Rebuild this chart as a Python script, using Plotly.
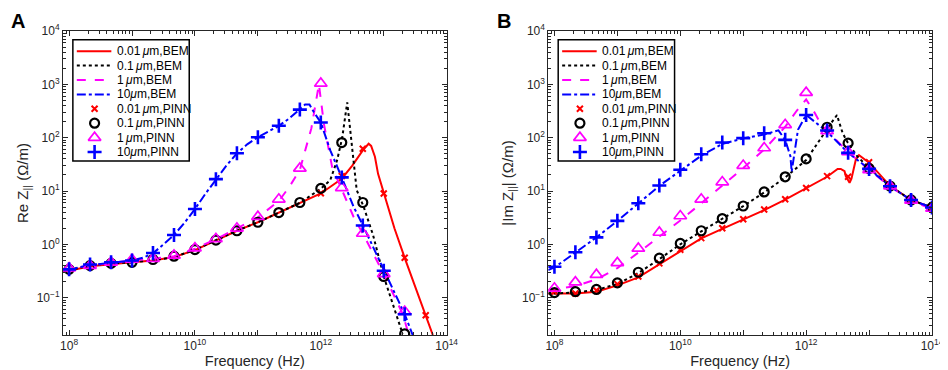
import numpy as np
import plotly.graph_objects as go

# ---------------- data ----------------
# PINN sample frequencies (log10 Hz)
pinn_exp = [8.0, 8.333, 8.667, 9.0, 9.333, 9.667, 10.0, 10.333, 10.667, 11.0,
            11.333, 11.667, 12.0, 12.333, 12.667, 13.0, 13.333, 13.667, 14.0]

# Panel A : Re Z
A_pinn_001 = [None, None, None, None, None, None, None, None, None, None,
              None, None, 9.1, 19, 62, 9.0, 0.56, 0.047, None]
A_pinn_01 = [0.34, 0.40, 0.44, 0.46, 0.52, 0.60, 0.80, 1.2, 1.8, 2.6,
             3.95, 6.1, 11.2, 81, 6.1, 0.25, 0.021, None, None]
A_pinn_1 = [0.36, 0.40, 0.46, 0.52, 0.54, 0.62, 0.85, 1.27, 2.0, 3.3,
            7.0, 26.6, 1040, 11.5, 1.6, 0.28, 0.055, None, None]
A_pinn_10 = [0.34, 0.42, 0.46, 0.50, 0.69, 1.5, 4.6, 16.7, 51, 102,
             167, 336, 193, 18, 2.26, 0.32, 0.049, None, None]

A_bem_001_x = [7.9, 8.0, 8.333, 8.667, 9.0, 9.333, 9.667, 10.0, 10.333, 10.667, 11.0,
               11.333, 11.667, 12.0, 12.333, 12.5, 12.667, 12.76, 12.8, 12.86, 12.91,
               13.0, 13.17, 13.333, 13.5, 13.667, 13.78]
A_bem_001_y = [0.31, 0.32, 0.39, 0.43, 0.46, 0.50, 0.58, 0.78, 1.2, 1.8, 2.6,
               3.9, 5.9, 9.0, 17, 30, 58, 77, 70, 44, 21,
               9.5, 2.0, 0.56, 0.16, 0.047, 0.02]
A_bem_01_x = [7.9, 8.0, 8.333, 8.667, 9.0, 9.333, 9.667, 10.0, 10.333, 10.667, 11.0,
              11.333, 11.667, 12.0, 12.15, 12.26, 12.34, 12.42, 12.49, 12.57, 12.68,
              12.83, 13.0, 13.3]
A_bem_01_y = [0.32, 0.33, 0.40, 0.44, 0.46, 0.50, 0.58, 0.79, 1.2, 1.8, 2.6,
              3.9, 6.0, 11, 16, 38, 100, 460, 89, 10.5, 5.1,
              1.5, 0.25, 0.021]
A_bem_1_x = [7.9, 8.0, 8.333, 8.667, 9.0, 9.333, 9.667, 10.0, 10.333, 10.667, 11.0,
             11.333, 11.5, 11.667, 11.85, 11.97, 12.05, 12.18, 12.333, 12.52, 12.667,
             13.0, 13.3, 13.4]
A_bem_1_y = [0.34, 0.35, 0.40, 0.45, 0.50, 0.54, 0.60, 0.83, 1.25, 2.0, 3.2,
             6.5, 12, 25, 150, 1000, 180, 28, 11, 3.3, 1.6,
             0.28, 0.05, 0.02]
A_bem_10_x = [7.9, 8.0, 8.333, 8.667, 9.0, 9.17, 9.333, 9.5, 9.667, 9.83, 10.0,
              10.17, 10.333, 10.5, 10.667, 10.83, 11.0, 11.17, 11.333, 11.5, 11.667,
              11.75, 11.82, 11.89, 12.0, 12.15, 12.333, 12.52, 12.667, 13.0, 13.333, 13.46]
A_bem_10_y = [0.33, 0.34, 0.41, 0.46, 0.50, 0.56, 0.68, 1.0, 1.5, 2.5, 4.6,
              9, 16.7, 30, 51, 75, 102, 130, 167, 230, 340,
              420, 420, 300, 193, 58, 18, 5.1, 2.3, 0.33, 0.049, 0.02]

# Panel B : |Im Z|
B_pinn_001 = [0.13, 0.12, 0.137, 0.18, 0.25, 0.44, 0.79, 1.31, 2.0, 2.96,
              4.5, 7.0, 11.4, 19, 18.5, 34.6, 12.4, 6.8, 4.9]
B_pinn_01 = [0.125, 0.13, 0.143, 0.19, 0.30, 0.55, 1.04, 1.8, 3.05, 5.24,
             9.6, 18.5, 40, 157, 79, 26.4, 12.4, 6.8, 4.9]
B_pinn_1 = [0.15, 0.196, 0.27, 0.45, 0.84, 1.67, 3.4, 7.0, 14.7, 30,
            64, 174, 700, 134, 54, 25, 12.4, 6.7, 4.7]
B_pinn_10 = [0.38, 0.71, 1.35, 2.76, 5.9, 12.7, 25, 49, 81, 98,
             121, 91, 267, 136, 52, 26, 12.3, 6.8, 4.9]

B_bem_001_x = [7.9, 8.0, 8.333, 8.667, 9.0, 9.333, 9.667, 10.0, 10.333, 10.667, 11.0,
               11.333, 11.667, 12.0, 12.333, 12.5, 12.55, 12.61, 12.63, 12.69, 12.72,
               12.79, 12.84, 13.0, 13.333, 13.667, 14.0]
B_bem_001_y = [0.12, 0.12, 0.12, 0.13, 0.17, 0.24, 0.42, 0.75, 1.3, 1.95, 2.9,
               4.4, 6.9, 11.2, 18.5, 26, 26, 23.6, 19, 14.3, 17,
               39, 47, 34, 12.5, 6.8, 4.9]
B_bem_01_x = [7.9, 8.0, 8.333, 8.667, 9.0, 9.333, 9.667, 10.0, 10.333, 10.667, 11.0,
              11.333, 11.667, 12.0, 12.333, 12.4, 12.49, 12.58, 12.66, 12.81, 13.0,
              13.333, 13.667, 14.0]
B_bem_01_y = [0.12, 0.12, 0.125, 0.14, 0.18, 0.29, 0.53, 1.0, 1.75, 3.0, 5.2,
              9.4, 18, 38, 150, 190, 265, 122, 81, 45, 27,
              12.4, 6.8, 4.9]
B_bem_1_x = [7.9, 8.0, 8.333, 8.667, 9.0, 9.333, 9.667, 10.0, 10.333, 10.667, 11.0,
             11.333, 11.667, 11.85, 12.0, 12.14, 12.24, 12.333, 12.667, 13.0, 13.333,
             13.667, 14.0]
B_bem_1_y = [0.14, 0.145, 0.165, 0.22, 0.36, 0.70, 1.4, 2.8, 5.9, 12.5, 27,
             60, 160, 320, 520, 288, 174, 134, 54, 25, 12.2,
             6.6, 4.6]
B_bem_10_x = [7.9, 8.0, 8.333, 8.667, 9.0, 9.333, 9.667, 10.0, 10.333, 10.667, 11.0,
              11.333, 11.5, 11.56, 11.667, 11.75, 11.77, 11.82, 11.87, 12.0, 12.333,
              12.667, 13.0, 13.333, 13.667, 14.0]
B_bem_10_y = [0.33, 0.37, 0.70, 1.35, 2.75, 5.8, 12.5, 24, 46, 76, 97,
              115, 130, 137, 91, 45, 23, 60, 141, 267, 130,
              52, 26, 12.2, 6.8, 4.9]

x_tickvals = [1e8, 1e9, 1e10, 1e11, 1e12, 1e13, 1e14]
x_ticktext = ["10<sup>8</sup>", "", "10<sup>10</sup>", "", "10<sup>12</sup>", "", "10<sup>14</sup>"]
y_tickvals = [1e-1, 1e0, 1e1, 1e2, 1e3, 1e4]
y_ticktext = ["10<sup>\u22121</sup>", "10<sup>0</sup>", "10<sup>1</sup>",
              "10<sup>2</sup>", "10<sup>3</sup>", "10<sup>4</sup>"]

labels = ["0.01\u2009<i>\u03bc</i>m,BEM", "0.1\u2009<i>\u03bc</i>m,BEM",
          "1\u2009<i>\u03bc</i>m,BEM", "10<i>\u03bc</i>m,BEM",
          "0.01\u2009<i>\u03bc</i>m,PINN", "0.1\u2009<i>\u03bc</i>m,PINN",
          "1\u2009<i>\u03bc</i>m,PINN", "10<i>\u03bc</i>m,PINN"]

# ---------------- styles / layout constants ----------------
colors = ["#ff0000", "#000000", "#ff00ff", "#0000ff"]
dashes = ["solid", "dot", "dash", "dashdot"]
symbols = ["x-thin-open", "circle-open", "triangle-up-open", "cross-thin-open"]
msizes = [6, 9, 11, 10]
mlw = [2, 2.2, 1.7, 2.6]
TICKFONT = "Liberation Sans"
TITLEFONT = "Liberation Sans"
AX = "#262626"
W, H = 948, 370
ML, MR, MT, MB = 55, 12, 23, 41
DOM_A = [0.0, 0.4415]
DOM_B = [0.5585, 1.0]

# legend geometry in panel-fraction units
LEG_BOX = dict(x0=0.0257, x1=0.329, y0=0.572, y1=0.9716)
LEG_ROW_TOP = 0.9337
LEG_ROW_STEP = 0.0474
LEG_LINE_X = [0.036, 0.126]
LEG_MARK_X = 0.0823
LEG_TEXT_X = 0.1344

fig = go.Figure()


def tolog(e):
    return [10 ** v for v in e]


panels = [
    ("x", "y", "x3", "y3", DOM_A,
     [(A_bem_001_x, A_bem_001_y), (A_bem_01_x, A_bem_01_y),
      (A_bem_1_x, A_bem_1_y), (A_bem_10_x, A_bem_10_y)],
     [A_pinn_001, A_pinn_01, A_pinn_1, A_pinn_10]),
    ("x2", "y2", "x4", "y4", DOM_B,
     [(B_bem_001_x, B_bem_001_y), (B_bem_01_x, B_bem_01_y),
      (B_bem_1_x, B_bem_1_y), (B_bem_10_x, B_bem_10_y)],
     [B_pinn_001, B_pinn_01, B_pinn_1, B_pinn_10]),
]

shapes = []
annotations = []
for xa, ya, lxa, lya, dom, bem, pinn in panels:
    for i, (bx, by) in enumerate(bem):
        fig.add_trace(go.Scatter(x=tolog(bx), y=by, mode="lines", showlegend=False,
                                 line=dict(color=colors[i], width=2, dash=dashes[i]),
                                 xaxis=xa, yaxis=ya))
    for i, py in enumerate(pinn):
        fig.add_trace(go.Scatter(x=tolog(pinn_exp), y=py, mode="markers", showlegend=False,
                                 marker=dict(symbol=symbols[i], size=msizes[i], color=colors[i],
                                             line=dict(color=colors[i], width=mlw[i])),
                                 xaxis=xa, yaxis=ya))
    # legend (drawn on an invisible helper axis spanning the panel)
    shapes.append(dict(type="rect", xref=lxa, yref=lya, **LEG_BOX,
                       line=dict(color="#000000", width=1.5), fillcolor="white", layer="below"))
    for i in range(4):
        yy = LEG_ROW_TOP - LEG_ROW_STEP * i
        fig.add_trace(go.Scatter(x=LEG_LINE_X, y=[yy, yy], mode="lines", showlegend=False,
                                 line=dict(color=colors[i], width=2, dash=dashes[i]),
                                 xaxis=lxa, yaxis=lya, hoverinfo="skip"))
    for i in range(4):
        yy = LEG_ROW_TOP - LEG_ROW_STEP * (i + 4)
        fig.add_trace(go.Scatter(x=[LEG_MARK_X], y=[yy], mode="markers", showlegend=False,
                                 marker=dict(symbol=symbols[i], size=msizes[i], color=colors[i],
                                             line=dict(color=colors[i], width=mlw[i])),
                                 xaxis=lxa, yaxis=lya, hoverinfo="skip"))
    for j, lab in enumerate(labels):
        annotations.append(dict(text=lab, x=LEG_TEXT_X, y=LEG_ROW_TOP - LEG_ROW_STEP * j,
                                xref=lxa, yref=lya, xanchor="left", yanchor="middle",
                                showarrow=False,
                                font=dict(family="Liberation Sans", size=12, color="#000")))

axis_common = dict(type="log", showline=True, linecolor=AX, linewidth=1, mirror="allticks",
                   ticks="inside", ticklen=5, tickcolor=AX, showgrid=False, zeroline=False,
                   tickfont=dict(family=TICKFONT, size=12, color=AX),
                   minor=dict(ticks="inside", ticklen=3, tickcolor=AX, dtick="D1", showgrid=False))

xcommon = dict(range=[np.log10(8e7), 14], tickmode="array", tickvals=x_tickvals,
               ticktext=x_ticktext,
               title=dict(text="Frequency (Hz)", font=dict(family=TITLEFONT, size=14.5, color=AX),
                          standoff=2), **axis_common)
ycommon = dict(range=[np.log10(0.02), 4], tickmode="array", tickvals=y_tickvals,
               ticktext=y_ticktext, **axis_common)
helper = dict(range=[0, 1], visible=False, fixedrange=True, showgrid=False, zeroline=False)

annotations += [
    dict(text="<b>A</b>", x=-0.062, y=1.075, xref="paper", yref="paper", xanchor="left",
         yanchor="top", showarrow=False, font=dict(family="Liberation Sans", size=20, color="#000")),
    dict(text="<b>B</b>", x=0.497, y=1.075, xref="paper", yref="paper", xanchor="left",
         yanchor="top", showarrow=False, font=dict(family="Liberation Sans", size=20, color="#000")),
]

fig.update_layout(
    width=W, height=H,
    margin=dict(l=ML, r=MR, t=MT, b=MB),
    paper_bgcolor="white", plot_bgcolor="rgba(0,0,0,0)",
    font=dict(family=TICKFONT, color=AX),
    showlegend=False,
    xaxis=dict(domain=DOM_A, anchor="y", **xcommon),
    yaxis=dict(domain=[0, 1], anchor="x",
               title=dict(text="Re Z<sub>||</sub> (\u03a9/m)",
                          font=dict(family=TITLEFONT, size=15, color=AX), standoff=4),
               **ycommon),
    xaxis2=dict(domain=DOM_B, anchor="y2", **xcommon),
    yaxis2=dict(domain=[0, 1], anchor="x2",
                title=dict(text="|Im Z<sub>||</sub>| (\u03a9/m)",
                           font=dict(family=TITLEFONT, size=15, color=AX), standoff=4),
                **ycommon),
    xaxis3=dict(domain=DOM_A, anchor="y3", **helper),
    yaxis3=dict(domain=[0, 1], anchor="x3", **helper),
    xaxis4=dict(domain=DOM_B, anchor="y4", **helper),
    yaxis4=dict(domain=[0, 1], anchor="x4", **helper),
    shapes=shapes,
    annotations=annotations,
)

fig.write_html("out.html")
